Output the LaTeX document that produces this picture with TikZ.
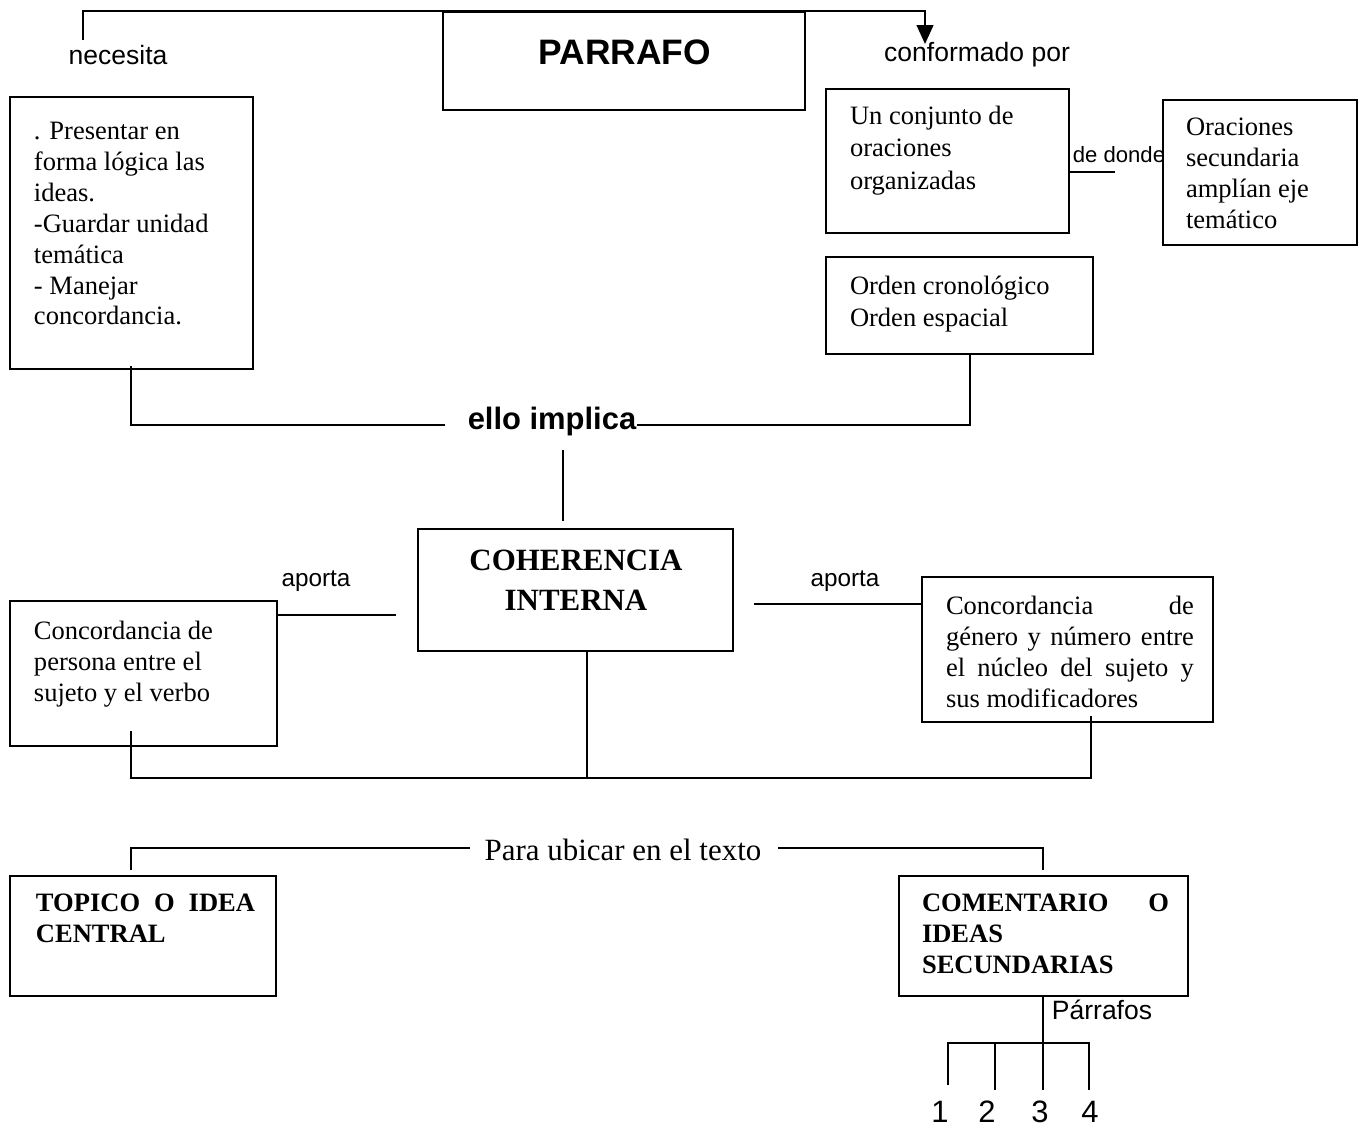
\documentclass[tikz,border=0pt]{standalone}
\usepackage{fontspec}
\setmainfont{Liberation Serif}
\setsansfont{Liberation Sans}
\usetikzlibrary{arrows.meta,fit,calc}

\begin{document}
\begin{tikzpicture}[x=0.4525pt, y=-0.4525pt, line width=0.9pt,
  box/.style={draw, inner sep=0pt},
  body/.style={anchor=north west, inner sep=0pt, align=left, font=\fontsize{12}{14}\selectfont},
  slabel/.style={inner sep=0pt, font=\sffamily\fontsize{12}{14}\selectfont},
  arr/.style={-{Triangle[width=7.5pt,length=8.5pt]}}
]
\useasboundingbox (0,0) rectangle (1363,1130);

% ---- boxes and their texts ----
\node[box, fit={(443,12) (805,110)}] (parrafo) {};
\node[slabel, font=\sffamily\bfseries\fontsize{16}{18}\selectfont] (parrafoT) at (625,52) {PARRAFO};

\node[box, fit={(10,97) (253,369)}] (need) {};
\node[body] (needT) at (33,121) {. Presentar en\\forma lógica las\\ideas.\\-Guardar unidad\\temática\\- Manejar\\concordancia.};

\node[box, fit={(826,89) (1069,233)}] (conj) {};
\node[body, font=\fontsize{12}{14.7}\selectfont] (conjT) at (849,105) {Un conjunto de\\oraciones\\organizadas};

\node[box, fit={(1163,100) (1357,245)}] (orac) {};
\node[body] (oracT) at (1185,117) {Oraciones\\secundaria\\amplían eje\\temático};

\node[box, fit={(826,257) (1093,354)}] (orden) {};
\node[body, font=\fontsize{12}{14.5}\selectfont] (ordenT) at (849,275) {Orden cronológico\\Orden espacial};

\node[box, fit={(418,529) (733,651)}] (coh) {};
\node[inner sep=0pt, align=center, font=\bfseries\fontsize{14}{18}\selectfont] (cohT) at (576,580) {COHERENCIA\\INTERNA};

\node[box, fit={(10,601) (277,746)}] (persona) {};
\node[body] (personaT) at (33,620) {Concordancia de\\persona entre el\\sujeto y el verbo};

\node[box, fit={(922,577) (1213,722)}] (genero) {};
\node[body] (generoT) at (945,595) {\makebox[112.2pt][s]{Concordancia de}\\\makebox[112.2pt][s]{género y número entre}\\\makebox[112.2pt][s]{el núcleo del sujeto y}\\sus modificadores};

\node[box, fit={(10,876) (276,996)}] (topico) {};
\node[body, font=\bfseries\fontsize{12}{14.2}\selectfont] (topicoT) at (35,893) {\makebox[99.1pt][s]{TOPICO O IDEA}\\CENTRAL};

\node[box, fit={(899,876) (1188,996)}] (coment) {};
\node[body, font=\bfseries\fontsize{12}{14}\selectfont] (comentT) at (921,893) {\makebox[111.8pt][s]{COMENTARIO O}\\IDEAS\\SECUNDARIAS};

% ---- labels ----
\node[slabel] (necesita) at (118,55) {necesita};
\node[slabel] (conformado) at (977,55) {conformado por};
\node[slabel, font=\sffamily\fontsize{10}{12}\selectfont] (dedonde) at (1119,155) {de donde};
\node[slabel, font=\sffamily\bfseries\fontsize{14}{16}\selectfont] (implica) at (552,422) {ello implica};
\node[slabel, font=\sffamily\fontsize{11}{13}\selectfont] (aportaL) at (316,581) {aporta};
\node[slabel, font=\sffamily\fontsize{11}{13}\selectfont] (aportaR) at (845,581) {aporta};
\node[inner sep=0pt, font=\fontsize{14}{16}\selectfont] (ubicar) at (623,850) {Para ubicar en el texto};
\node[slabel] (parrafos) at (1102,1010) {Párrafos};
\node[slabel, font=\sffamily\fontsize{14}{16}\selectfont] (n1) at (940,1112) {1};
\node[slabel, font=\sffamily\fontsize{14}{16}\selectfont] (n2) at (987,1112) {2};
\node[slabel, font=\sffamily\fontsize{14}{16}\selectfont] (n3) at (1040,1112) {3};
\node[slabel, font=\sffamily\fontsize{14}{16}\selectfont] (n4) at (1090,1112) {4};

% ---- connector end points ----
\coordinate (necTop) at (83,40);
\coordinate (arrTip) at (925,44);
\coordinate (ddEnd) at (1115,172);
\coordinate (needFoot) at (131,366);
\coordinate (impL) at (445,425);
\coordinate (ordenFoot) at (970,354);
\coordinate (impDown) at (563,450);
\coordinate (cohUp) at (563,521);
\coordinate (apL) at (396,615);
\coordinate (apR) at (754,604);
\coordinate (personaFoot) at (131,731);
\coordinate (generoFoot) at (1091,716);
\coordinate (bus) at (587,778);
\coordinate (topUp) at (131,870);
\coordinate (comUp) at (1043,870);
\coordinate (ubL) at (470,848);
\coordinate (ubR) at (778,848);
\coordinate (hub) at (1043,1043);
\coordinate (leg1) at (948,1085);
\coordinate (leg2) at (995,1090);
\coordinate (leg3) at (1043,1090);
\coordinate (leg4) at (1089,1090);

% ---- connectors ----
\draw[arr] (necTop) -- (necTop |- parrafo.north) -- (arrTip |- parrafo.north) -- (arrTip);
\draw (conj.east |- ddEnd) -- (ddEnd);
\draw (needFoot) |- (impL);
\draw (implica.east |- impL) -| (ordenFoot);
\draw (impDown) -- (cohUp);
\draw (apL -| persona.east) -- (apL);
\draw (apR) -- (apR -| genero.west);
\draw (personaFoot) |- (bus) -| (generoFoot);
\draw (coh.south -| bus) -- (bus);
\draw (topUp) |- (ubL);
\draw (ubR) -| (comUp);
\draw (coment.south -| hub) -- (leg3);
\draw (leg1) |- (hub) -| (leg4);
\draw (leg2 |- hub) -- (leg2);
\end{tikzpicture}
\end{document}
